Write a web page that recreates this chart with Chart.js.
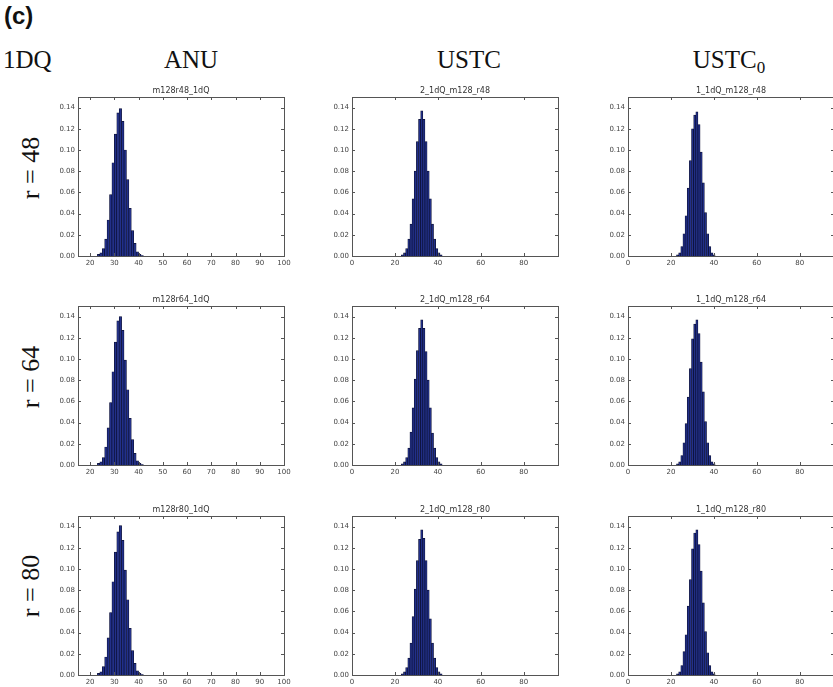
<!DOCTYPE html>
<html>
<head>
<meta charset="utf-8">
<script src="https://cdn.jsdelivr.net/npm/chart.js@4.4.0/dist/chart.umd.min.js"></script>
<style>
body { margin: 0; width: 833px; height: 687px; overflow: hidden; background: #fff; position: relative; }
.lbl { position: absolute; font-family: 'Liberation Serif', 'Times New Roman', serif; font-size: 25px; color: #111; white-space: nowrap; line-height: 1; }
.col { transform: translateX(-50%); }
.row { transform: translate(-50%, -50%) rotate(-90deg); font-size: 26px; }
canvas { position: absolute; }
</style>
</head>
<body>
<div class="lbl" style="left:4px;top:4px;font-family:'Liberation Sans',Arial,sans-serif;font-weight:bold;font-size:24px">(c)</div>
<div class="lbl" style="left:3px;top:47px">1DQ</div>
<div class="lbl col" style="left:191px;top:47px">ANU</div>
<div class="lbl col" style="left:469px;top:47px">USTC</div>
<div class="lbl col" style="left:729px;top:47px">USTC<sub style="font-size:17px;vertical-align:-5px">0</sub></div>
<div class="lbl row" style="left:31px;top:168px">r = 48</div>
<div class="lbl row" style="left:31px;top:377px">r = 64</div>
<div class="lbl row" style="left:31px;top:586px">r = 80</div>

<canvas id="p11" width="246" height="187" style="left:48px;top:83px"></canvas>
<canvas id="p12" width="246" height="187" style="left:322px;top:83px"></canvas>
<canvas id="p13" width="246" height="187" style="left:598px;top:83px"></canvas>
<canvas id="p21" width="246" height="187" style="left:48px;top:292px"></canvas>
<canvas id="p22" width="246" height="187" style="left:322px;top:292px"></canvas>
<canvas id="p23" width="246" height="187" style="left:598px;top:292px"></canvas>
<canvas id="p31" width="246" height="187" style="left:48px;top:502px"></canvas>
<canvas id="p32" width="246" height="187" style="left:322px;top:502px"></canvas>
<canvas id="p33" width="246" height="187" style="left:598px;top:502px"></canvas>

<script>
// histogram bins (left edges), width 1
const anuBins = [23, 24, 25, 26, 27, 28, 29, 30, 31, 32, 33, 34, 35, 36, 37, 38, 39, 40, 41];
const ustcBins = [23, 24, 25, 26, 27, 28, 29, 30, 31, 32, 33, 34, 35, 36, 37, 38, 39, 40, 41];
const ustc0Bins = [22.6, 23.6, 24.6, 25.6, 26.6, 27.6, 28.6, 29.6, 30.6, 31.6, 32.6, 33.6, 34.6, 35.6, 36.6, 37.6, 38.6, 39.6];

// frequencies
const anuR48 = [0.0016, 0.003, 0.007, 0.016, 0.034, 0.058, 0.088, 0.115, 0.135, 0.139, 0.127, 0.100, 0.072, 0.045, 0.024, 0.012, 0.004, 0.0015, 0.0005];
const anuR64 = [0.0015, 0.003, 0.007, 0.017, 0.035, 0.059, 0.088, 0.116, 0.136, 0.140, 0.127, 0.099, 0.071, 0.044, 0.024, 0.011, 0.004, 0.0015, 0.0005];
const anuR80 = [0.0015, 0.003, 0.008, 0.017, 0.035, 0.059, 0.088, 0.116, 0.135, 0.141, 0.127, 0.099, 0.071, 0.044, 0.023, 0.011, 0.004, 0.0015, 0.0005];

const ustcR48 = [0.001, 0.003, 0.007, 0.016, 0.030, 0.054, 0.080, 0.108, 0.129, 0.137, 0.129, 0.108, 0.080, 0.054, 0.030, 0.016, 0.007, 0.003, 0.001];
const ustcR64 = [0.001, 0.003, 0.007, 0.016, 0.031, 0.054, 0.081, 0.108, 0.129, 0.137, 0.129, 0.107, 0.080, 0.054, 0.030, 0.016, 0.007, 0.003, 0.001];
const ustcR80 = [0.001, 0.003, 0.007, 0.016, 0.030, 0.055, 0.081, 0.108, 0.128, 0.137, 0.129, 0.108, 0.080, 0.053, 0.030, 0.016, 0.007, 0.003, 0.001];

const ustc0R48 = [0.001, 0.003, 0.009, 0.021, 0.038, 0.064, 0.090, 0.120, 0.133, 0.136, 0.124, 0.098, 0.069, 0.041, 0.021, 0.009, 0.003, 0.001];
const ustc0R64 = [0.001, 0.003, 0.009, 0.021, 0.039, 0.064, 0.091, 0.119, 0.133, 0.137, 0.124, 0.097, 0.069, 0.041, 0.021, 0.009, 0.003, 0.001];
const ustc0R80 = [0.001, 0.003, 0.009, 0.022, 0.038, 0.065, 0.090, 0.119, 0.134, 0.137, 0.123, 0.098, 0.068, 0.041, 0.021, 0.009, 0.003, 0.001];

// axis ticks
const yTicks = [0, 0.02, 0.04, 0.06, 0.08, 0.10, 0.12, 0.14];
const anuXTicks = [20, 30, 40, 50, 60, 70, 80, 90, 100];
const ustcXTicks = [0, 20, 40, 60, 80];

// matplotlib-like box with inward ticks
const frame = {
    id: 'frame',
    afterDatasetsDraw(chart) {
        const { ctx, chartArea: a, scales: { x, y } } = chart;
        ctx.save();
        ctx.strokeStyle = '#555';
        ctx.lineWidth = 1;
        ctx.beginPath();
        x.ticks.forEach((t, i) => {
            const px = Math.round(x.getPixelForTick(i)) + 0.5;
            ctx.moveTo(px, a.bottom); ctx.lineTo(px, a.bottom - 3);
            ctx.moveTo(px, a.top); ctx.lineTo(px, a.top + 3);
        });
        y.ticks.forEach((t, i) => {
            const py = Math.round(y.getPixelForTick(i)) + 0.5;
            ctx.moveTo(a.left, py); ctx.lineTo(a.left + 3, py);
            ctx.moveTo(a.right, py); ctx.lineTo(a.right - 3, py);
        });
        ctx.stroke();
        ctx.strokeRect(Math.round(a.left) + 0.5, Math.round(a.top) + 0.5, Math.round(a.width), Math.round(a.height));
        ctx.restore();
    }
};

const tickFont = { family: 'DejaVu Sans', size: 7 };

function histPanel(id, title, bins, values, xMin, xMax, xTicks) {
    new Chart(document.getElementById(id), {
        type: 'bar',
        data: {
            datasets: [{
                data: bins.map((b, i) => ({ x: b + 0.5, y: values[i] })),
                backgroundColor: '#22308a',
                borderColor: '#0b0f33',
                borderWidth: 0.7,
                barPercentage: 1,
                categoryPercentage: 1
            }]
        },
        options: {
            responsive: false,
            maintainAspectRatio: false,
            animation: false,
            layout: { padding: { left: 0, top: 0, right: 10, bottom: 0 } },
            scales: {
                x: {
                    type: 'linear',
                    offset: false,
                    min: xMin,
                    max: xMax,
                    grid: { display: false, drawTicks: false },
                    border: { display: false },
                    afterBuildTicks: s => { s.ticks = xTicks.map(v => ({ value: v })); },
                    afterFit: s => { s.height = 14; },
                    ticks: { font: tickFont, color: '#444', padding: 3, maxRotation: 0, autoSkip: false }
                },
                y: {
                    min: 0,
                    max: 0.15,
                    grid: { display: false, drawTicks: false },
                    border: { display: false },
                    afterBuildTicks: s => { s.ticks = yTicks.map(v => ({ value: v })); },
                    afterFit: s => { s.width = 30; },
                    ticks: { font: tickFont, color: '#444', padding: 3, callback: v => v.toFixed(2) }
                }
            },
            plugins: {
                legend: { display: false },
                tooltip: { enabled: false },
                title: {
                    display: true,
                    text: title,
                    fullSize: false,
                    color: '#333',
                    font: { family: 'DejaVu Sans', size: 8, weight: 'normal', lineHeight: 1 },
                    padding: { top: 4, bottom: 2 }
                }
            }
        },
        plugins: [frame]
    });
}

histPanel('p11', 'm128r48_1dQ', anuBins, anuR48, 15, 100, anuXTicks);
histPanel('p12', '2_1dQ_m128_r48', ustcBins, ustcR48, 0, 96, ustcXTicks);
histPanel('p13', '1_1dQ_m128_r48', ustc0Bins, ustc0R48, 0, 96, ustcXTicks);
histPanel('p21', 'm128r64_1dQ', anuBins, anuR64, 15, 100, anuXTicks);
histPanel('p22', '2_1dQ_m128_r64', ustcBins, ustcR64, 0, 96, ustcXTicks);
histPanel('p23', '1_1dQ_m128_r64', ustc0Bins, ustc0R64, 0, 96, ustcXTicks);
histPanel('p31', 'm128r80_1dQ', anuBins, anuR80, 15, 100, anuXTicks);
histPanel('p32', '2_1dQ_m128_r80', ustcBins, ustcR80, 0, 96, ustcXTicks);
histPanel('p33', '1_1dQ_m128_r80', ustc0Bins, ustc0R80, 0, 96, ustcXTicks);
</script>
</body>
</html>
